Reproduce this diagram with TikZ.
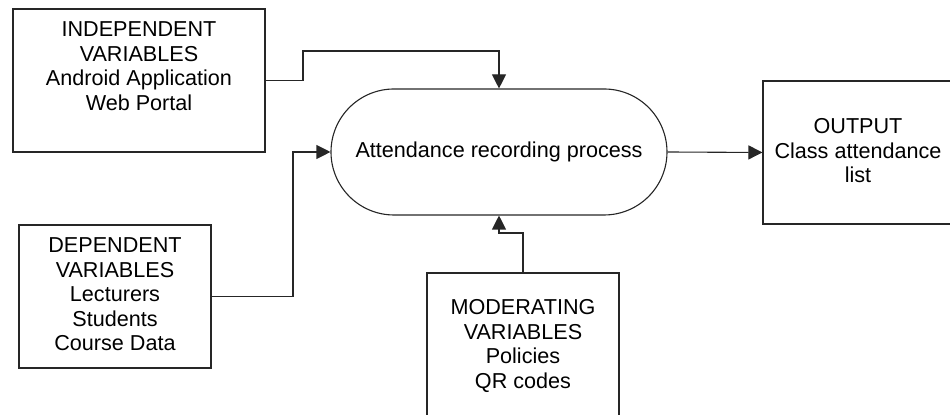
\documentclass[tikz,border=0pt]{standalone}
\usepackage{fontspec}
\setmainfont{Liberation Sans}
\usetikzlibrary{arrows.meta,shapes.misc}
\tikzset{
  boxshape/.style={draw=black!85, line width=0.55pt, rectangle, inner sep=0pt},
  lbl/.style={align=center, inner sep=0pt, anchor=north, font=\fontsize{10.8}{12.25}\selectfont},
  link/.style={draw=black!85, line width=0.55pt},
  flow/.style={link, -{Triangle[length=7pt,width=7pt]}},
  procshape/.style={draw=black!85, line width=0.55pt, rounded rectangle,
    minimum width=168pt, minimum height=63pt, inner sep=0pt,
    font=\fontsize{10.8}{12.25}\selectfont},
}
\begin{document}
\begin{tikzpicture}[x=0.5pt,y=-0.5pt]
\useasboundingbox (0,0) rectangle (950,415);
\clip (0,0) rectangle (950,415);

% input, output and moderating boxes
\node[boxshape, minimum width=126pt, minimum height=71.5pt] (indep) at (139,80.5) {};
\node[boxshape, minimum width=96pt, minimum height=71.5pt] (dep) at (115,296.5) {};
\node[boxshape, minimum width=96pt, minimum height=71.5pt] (mod) at (523,344.5) {};
\node[boxshape, minimum width=95pt, minimum height=71.5pt] (out) at (858,152.5) {};

% box texts
\node[lbl] (indepText) at (139,21.7) {INDEPENDENT\\VARIABLES\\Android Application\\Web Portal};
\node[lbl] (depText) at (115,237.3) {DEPENDENT\\VARIABLES\\Lecturers\\Students\\Course Data};
\node[lbl] (modText) at (523,299.3) {MODERATING\\VARIABLES\\Policies\\QR codes};
\node[lbl] (outText) at (858,118.3) {OUTPUT\\Class attendance\\list};

% central process
\node[procshape] (proc) at (499,152) {Attendance recording process};

% bend points of the connectors
\coordinate (j1) at (303,51);
\coordinate (j2) at (293,152);
\coordinate (j3) at (499,233);

% connectors
\draw[flow] (indep.east) -| (j1) -| (proc.north);
\draw[flow] (dep.east) -| (j2) -- (proc.west);
\draw[flow] (mod.north) |- (j3) -- (proc.south);
\draw[flow] (proc.east) -- (out.west);
\end{tikzpicture}
\end{document}
